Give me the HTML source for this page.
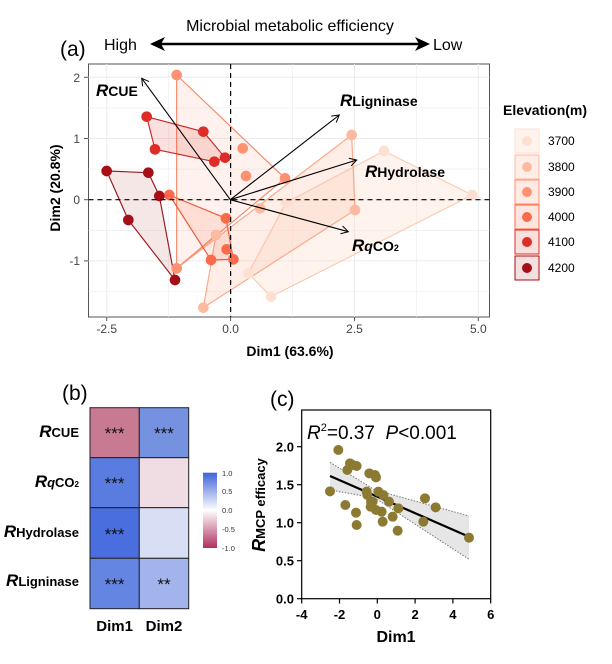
<!DOCTYPE html>
<html><head><meta charset="utf-8"><style>
html,body{margin:0;padding:0;background:#fff}
svg{display:block;font-family:"Liberation Sans",Arial,sans-serif}
</style></head><body>
<svg width="612" height="664" viewBox="0 0 612 664" xmlns="http://www.w3.org/2000/svg">
<defs>
<marker id="ah" markerWidth="10" markerHeight="10" refX="8" refY="5" orient="auto" markerUnits="userSpaceOnUse"><path d="M1,1 L8,5 L1,9" fill="none" stroke="#000" stroke-width="1"/></marker>
<linearGradient id="cb" x1="0" y1="0" x2="0" y2="1">
<stop offset="0" stop-color="#3f63d8"/><stop offset="0.5" stop-color="#ffffff"/><stop offset="1" stop-color="#b0305f"/></linearGradient>
</defs>

<!-- header -->
<text x="290" y="31" font-size="16" text-anchor="middle">Microbial metabolic efficiency</text>
<text x="60" y="56" font-size="21">(a)</text>
<text x="104" y="50" font-size="16">High</text>
<text x="433" y="50" font-size="16">Low</text>
<line x1="160" y1="44" x2="420" y2="44" stroke="#000" stroke-width="2.5"/>
<path d="M150,44 L165,37 L161,44 L165,51 Z"/>
<path d="M430,44 L415,37 L419,44 L415,51 Z"/>

<!-- panel a plot -->
<rect x="88.5" y="64" width="401" height="253" fill="#fff" stroke="#555" stroke-width="1"/>
<g stroke="#ebebeb" stroke-width="1">
<line x1="106.7" y1="64" x2="106.7" y2="317"/><line x1="230.6" y1="64" x2="230.6" y2="317"/><line x1="354.5" y1="64" x2="354.5" y2="317"/><line x1="478.3" y1="64" x2="478.3" y2="317"/>
<line x1="168.6" y1="64" x2="168.6" y2="317" stroke-width="0.6"/><line x1="292.5" y1="64" x2="292.5" y2="317" stroke-width="0.6"/><line x1="416.4" y1="64" x2="416.4" y2="317" stroke-width="0.6"/>
<line x1="88.5" y1="77.3" x2="489.5" y2="77.3"/><line x1="88.5" y1="138.5" x2="489.5" y2="138.5"/><line x1="88.5" y1="199.7" x2="489.5" y2="199.7"/><line x1="88.5" y1="260.9" x2="489.5" y2="260.9"/>
<line x1="88.5" y1="107.9" x2="489.5" y2="107.9" stroke-width="0.6"/><line x1="88.5" y1="169.1" x2="489.5" y2="169.1" stroke-width="0.6"/><line x1="88.5" y1="230.3" x2="489.5" y2="230.3" stroke-width="0.6"/><line x1="88.5" y1="291.5" x2="489.5" y2="291.5" stroke-width="0.6"/>
</g>
<g transform="translate(60,50) scale(0.33333)" stroke-width="3.5" stroke-linejoin="round">
<polygon points="972,303 1237,435 633,740 565,670 678,458" fill="#fde0d2" fill-opacity="0.4" stroke="#fcc9b3"/>
<polygon points="875,255 885,480 430,773 468,555 350,655" fill="#fcbba1" fill-opacity="0.25" stroke="#f9a98a"/>
<polygon points="350,75 675,385 350,655" fill="#fc9272" fill-opacity="0.12" stroke="#f3896a"/>
<polygon points="328,435 498,505 520,628 453,630" fill="#fb6a4a" fill-opacity="0.15" stroke="#ec5a3c"/>
<polygon points="260,200 430,245 495,323 463,335 285,298" fill="#de2d26" fill-opacity="0.15" stroke="#c8282a"/>
<polygon points="140,363 265,368 298,438 345,690 205,510" fill="#a50f15" fill-opacity="0.1" stroke="#9a1a20"/>
<g fill="#fde0d2"><circle cx="972" cy="303" r="16"/><circle cx="1237" cy="435" r="16"/><circle cx="633" cy="740" r="16"/><circle cx="565" cy="670" r="16"/><circle cx="678" cy="458" r="16"/></g>
<g fill="#fcbba1"><circle cx="875" cy="255" r="16"/><circle cx="885" cy="480" r="16"/><circle cx="430" cy="773" r="16"/><circle cx="468" cy="555" r="16"/><circle cx="600" cy="475" r="16"/></g>
<g fill="#fc9272"><circle cx="350" cy="75" r="16"/><circle cx="675" cy="385" r="16"/><circle cx="350" cy="655" r="16"/><circle cx="548" cy="295" r="16"/><circle cx="558" cy="378" r="16"/></g>
<g fill="#fb6a4a"><circle cx="328" cy="435" r="16"/><circle cx="498" cy="505" r="16"/><circle cx="520" cy="628" r="16"/><circle cx="453" cy="630" r="16"/><circle cx="500" cy="598" r="16"/></g>
<g fill="#de2d26"><circle cx="260" cy="200" r="16"/><circle cx="430" cy="245" r="16"/><circle cx="495" cy="323" r="16"/><circle cx="463" cy="335" r="16"/><circle cx="285" cy="298" r="16"/></g>
<g fill="#a50f15"><circle cx="140" cy="363" r="16"/><circle cx="265" cy="368" r="16"/><circle cx="298" cy="438" r="16"/><circle cx="345" cy="690" r="16"/><circle cx="205" cy="510" r="16"/></g>
</g>
<line x1="230.6" y1="64" x2="230.6" y2="317" stroke="#000" stroke-dasharray="5,4" stroke-width="1.2"/>
<line x1="88.5" y1="199.7" x2="489.5" y2="199.7" stroke="#000" stroke-dasharray="5,4" stroke-width="1.2"/>
<g stroke="#000" stroke-width="1.1" marker-end="url(#ah)">
<line x1="230.3" y1="199.7" x2="141.7" y2="78.3"/>
<line x1="230.3" y1="199.7" x2="339.3" y2="115"/>
<line x1="230.3" y1="199.7" x2="356.7" y2="160"/>
<line x1="230.3" y1="199.7" x2="348.3" y2="231.7"/>
</g>
<g font-weight="bold" font-size="14">
<text x="96" y="96"><tspan font-style="italic" font-size="17">R</tspan><tspan>CUE</tspan></text>
<text x="340" y="106"><tspan font-style="italic" font-size="17">R</tspan><tspan>Ligninase</tspan></text>
<text x="365" y="177"><tspan font-style="italic" font-size="17">R</tspan><tspan>Hydrolase</tspan></text>
<text x="352" y="251"><tspan font-style="italic" font-size="17">R</tspan><tspan font-style="italic">q</tspan><tspan>CO</tspan><tspan font-size="9">2</tspan></text>
</g>
<g font-size="12" fill="#444" text-anchor="end">
<text x="80" y="82">2</text><text x="80" y="143">1</text><text x="80" y="204">0</text><text x="80" y="265">-1</text>
</g>
<g stroke="#555"><line x1="84" y1="77.3" x2="88" y2="77.3"/><line x1="84" y1="138.5" x2="88" y2="138.5"/><line x1="84" y1="199.7" x2="88" y2="199.7"/><line x1="84" y1="260.9" x2="88" y2="260.9"/>
<line x1="106.7" y1="317" x2="106.7" y2="321"/><line x1="230.6" y1="317" x2="230.6" y2="321"/><line x1="354.5" y1="317" x2="354.5" y2="321"/><line x1="478.3" y1="317" x2="478.3" y2="321"/></g>
<g font-size="12" fill="#444" text-anchor="middle">
<text x="106.7" y="333">-2.5</text><text x="230.6" y="333">0.0</text><text x="354.5" y="333">2.5</text><text x="478.3" y="333">5.0</text>
</g>
<text x="290" y="356" font-size="14" font-weight="bold" text-anchor="middle">Dim1 (63.6%)</text>
<text transform="translate(60,188) rotate(-90)" font-size="14" font-weight="bold" text-anchor="middle">Dim2 (20.8%)</text>

<!-- legend -->
<text x="503" y="115" font-size="14" font-weight="bold">Elevation(m)</text>
<g stroke-width="1">
<rect x="515" y="129" width="24" height="24" fill="#fff3ee" stroke="#fde0d2"/><circle cx="527" cy="141" r="5" fill="#fde0d2"/>
<rect x="515" y="155" width="24" height="24" fill="#ffeee7" stroke="#fcbba1"/><circle cx="527" cy="167" r="5" fill="#fcbba1"/>
<rect x="515" y="180" width="24" height="24" fill="#ffebe3" stroke="#fc9272"/><circle cx="527" cy="192" r="5" fill="#fc9272"/>
<rect x="515" y="205" width="24" height="24" fill="#fde6df" stroke="#fb6a4a"/><circle cx="527" cy="217" r="5" fill="#fb6a4a"/>
<rect x="515" y="230" width="24" height="24" fill="#f9e0dc" stroke="#de2d26"/><circle cx="527" cy="242" r="5" fill="#de2d26"/>
<rect x="515" y="256" width="24" height="24" fill="#f4e0e0" stroke="#a50f15"/><circle cx="527" cy="268" r="5" fill="#a50f15"/>
</g>
<g font-size="12"><text x="548" y="145">3700</text><text x="548" y="171">3800</text><text x="548" y="196">3900</text><text x="548" y="221">4000</text><text x="548" y="246">4100</text><text x="548" y="272">4200</text></g>

<!-- panel b -->
<text x="62" y="400" font-size="21">(b)</text>
<g stroke="#222" stroke-width="1">
<rect x="90" y="407.7" width="49.3" height="50" fill="#c97a93"/><rect x="139.3" y="407.7" width="49.4" height="50" fill="#7492e0"/>
<rect x="90" y="457.7" width="49.3" height="50" fill="#5a7ce0"/><rect x="139.3" y="457.7" width="49.4" height="50" fill="#f0dce3"/>
<rect x="90" y="507.7" width="49.3" height="50.6" fill="#4a6ede"/><rect x="139.3" y="507.7" width="49.4" height="50.6" fill="#d8def3"/>
<rect x="90" y="558.3" width="49.3" height="50.4" fill="#6585e2"/><rect x="139.3" y="558.3" width="49.4" height="50.4" fill="#a3b4ec"/>
</g>
<g font-size="17" text-anchor="middle" fill="#111">
<text x="114.6" y="439">***</text><text x="164" y="439">***</text>
<text x="114.6" y="489">***</text>
<text x="114.6" y="540">***</text>
<text x="114.6" y="590">***</text><text x="164" y="590">**</text>
</g>
<g font-weight="bold" font-size="13" text-anchor="end">
<text x="79" y="437"><tspan font-style="italic" font-size="17">R</tspan><tspan>CUE</tspan></text>
<text x="79" y="487"><tspan font-style="italic" font-size="17">R</tspan><tspan font-style="italic">q</tspan><tspan>CO</tspan><tspan font-size="8">2</tspan></text>
<text x="79" y="537"><tspan font-style="italic" font-size="17">R</tspan><tspan>Hydrolase</tspan></text>
<text x="79" y="586"><tspan font-style="italic" font-size="17">R</tspan><tspan>Ligninase</tspan></text>
</g>
<text x="114.6" y="631" font-size="15" font-weight="bold" text-anchor="middle">Dim1</text>
<text x="164" y="631" font-size="15" font-weight="bold" text-anchor="middle">Dim2</text>
<rect x="203" y="472.7" width="14" height="75.3" fill="url(#cb)"/>
<g font-size="7.5" fill="#333"><text x="222" y="476">1.0</text><text x="222" y="494">0.5</text><text x="222" y="513">0.0</text><text x="222" y="532">-0.5</text><text x="222" y="551">-1.0</text></g>

<!-- panel c -->
<text x="270" y="406" font-size="21">(c)</text>
<polygon points="330,462.3 375,490 469,516 469,559.3 375,498 330,490" fill="#e6e6e6"/>
<polyline points="330,462.3 375,490 469,516" fill="none" stroke="#777" stroke-dasharray="1.5,1.5" stroke-width="1"/>
<polyline points="330,490 375,498 469,559.3" fill="none" stroke="#777" stroke-dasharray="1.5,1.5" stroke-width="1"/>
<line x1="330" y1="476" x2="469" y2="536.7" stroke="#000" stroke-width="2.2"/>
<g transform="translate(250,370) scale(0.33333)" fill="#8c7a32">
<circle cx="240" cy="364" r="15"/><circle cx="265" cy="240" r="15"/><circle cx="286" cy="405" r="15"/><circle cx="292" cy="300" r="15"/><circle cx="300" cy="280" r="15"/><circle cx="308" cy="285" r="15"/><circle cx="320" cy="288" r="15"/><circle cx="318" cy="428" r="15"/><circle cx="320" cy="465" r="15"/><circle cx="358" cy="310" r="15"/><circle cx="375" cy="315" r="15"/><circle cx="378" cy="322" r="15"/><circle cx="350" cy="365" r="15"/><circle cx="352" cy="375" r="15"/><circle cx="363" cy="395" r="15"/><circle cx="362" cy="410" r="15"/><circle cx="368" cy="395" r="15"/><circle cx="378" cy="420" r="15"/><circle cx="385" cy="365" r="15"/><circle cx="400" cy="375" r="15"/><circle cx="398" cy="455" r="15"/><circle cx="395" cy="425" r="15"/><circle cx="417" cy="395" r="15"/><circle cx="428" cy="440" r="15"/><circle cx="443" cy="482" r="15"/><circle cx="445" cy="415" r="15"/><circle cx="520" cy="455" r="15"/><circle cx="525" cy="385" r="15"/><circle cx="557" cy="412" r="15"/><circle cx="657" cy="503" r="15"/>
</g>
<rect x="301.7" y="410" width="189" height="188.7" fill="none" stroke="#000" stroke-width="1.2"/>
<text x="307" y="439" font-size="19"><tspan font-style="italic">R</tspan><tspan font-size="11" dy="-8">2</tspan><tspan dy="8">=0.37&#160;&#160;</tspan><tspan font-style="italic">P</tspan><tspan>&lt;0.001</tspan></text>
<g stroke="#000" stroke-width="1.2">
<line x1="297" y1="446.7" x2="301.7" y2="446.7"/><line x1="297" y1="484.7" x2="301.7" y2="484.7"/><line x1="297" y1="522.7" x2="301.7" y2="522.7"/><line x1="297" y1="560.7" x2="301.7" y2="560.7"/><line x1="297" y1="598.7" x2="301.7" y2="598.7"/>
<line x1="301.7" y1="598.7" x2="301.7" y2="603.5"/><line x1="339.5" y1="598.7" x2="339.5" y2="603.5"/><line x1="377.3" y1="598.7" x2="377.3" y2="603.5"/><line x1="415.1" y1="598.7" x2="415.1" y2="603.5"/><line x1="452.9" y1="598.7" x2="452.9" y2="603.5"/><line x1="490.7" y1="598.7" x2="490.7" y2="603.5"/>
</g>
<g font-size="13" font-weight="bold" text-anchor="end">
<text x="294" y="451.5">2.0</text><text x="294" y="489.5">1.5</text><text x="294" y="527.5">1.0</text><text x="294" y="565.5">0.5</text><text x="294" y="603.5">0.0</text>
</g>
<g font-size="13" font-weight="bold" text-anchor="middle">
<text x="301.7" y="619">-4</text><text x="339.5" y="619">-2</text><text x="377.3" y="619">0</text><text x="415.1" y="619">2</text><text x="452.9" y="619">4</text><text x="490.7" y="619">6</text>
</g>
<text x="396" y="642" font-size="16" font-weight="bold" text-anchor="middle">Dim1</text>
<text transform="translate(265,505) rotate(-90)" font-size="13" font-weight="bold" text-anchor="middle"><tspan font-style="italic" font-size="18">R</tspan><tspan>MCP efficacy</tspan></text>
</svg>
</body></html>
